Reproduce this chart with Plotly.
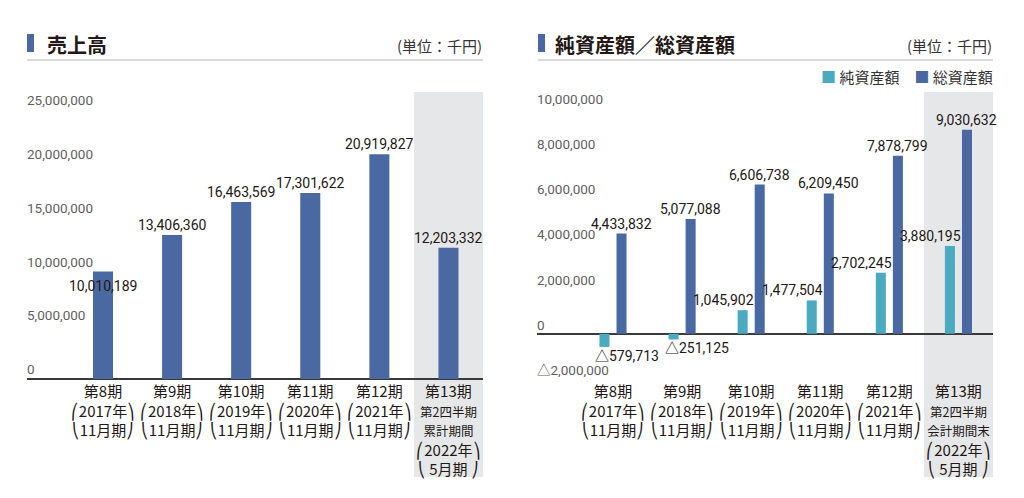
import plotly.graph_objects as go

# ---------------- data ----------------
periods = ["第8期", "第9期", "第10期", "第11期", "第12期", "第13期"]
fiscal_years = ["2017年", "2018年", "2019年", "2020年", "2021年", "2022年"]
fiscal_months = ["11月期", "11月期", "11月期", "11月期", "11月期", "5月期"]
sales_note = ["第2四半期", "累計期間"]
assets_note = ["第2四半期", "会計期間末"]

sales = [10010189, 13406360, 16463569, 17301622, 20919827, 12203332]
net_assets = [-579713, -251125, 1045902, 1477504, 2702245, 3880195]
total_assets = [4433832, 5077088, 6606738, 6209450, 7878799, 9030632]

sales_ticks = [0, 5000000, 10000000, 15000000, 20000000, 25000000]
assets_ticks = [-2000000, 0, 2000000, 4000000, 6000000, 8000000, 10000000]

# ---------------- style ----------------
NAVY = "#4a68a2"
TEAL = "#4aabc0"
GRAY_BG = "#e6e7e9"
TXT = "#231815"
TICK_TXT = "#5f5f5f"
NUM_FONT = "Roboto, Noto Sans CJK JP"
JP_FONT = "Noto Sans CJK JP"

W, H = 1024, 498
ML, MR, MT, MB = 27, 31, 92, 119
PW = W - ML - MR
PH = H - MT - MB


def px_x(px):
    return (px - ML) / PW


def px_y(py):
    return (H - MB - py) / PH


def fmt(v):
    return f"{v:,}" if v >= 0 else "△" + f"{-v:,}"


def cat_label(i, note):
    if i < len(periods) - 1:
        return f"{periods[i]}<br>⎛{fiscal_years[i]}⎞<br>⎝{fiscal_months[i]}⎠"
    small = "".join(f'<br><span style="font-size:12.5px">{n}</span>' for n in note)
    return f"{periods[i]}{small}<br>⎛{fiscal_years[i]}⎞<br>⎝ {fiscal_months[i]} ⎠"


xs = list(range(len(periods)))
left_ticktext = [cat_label(i, sales_note) for i in xs]
right_ticktext = [cat_label(i, assets_note) for i in xs]

fig = go.Figure()

# Left: sales
fig.add_trace(go.Bar(x=xs, y=sales, width=0.29, marker=dict(color=NAVY, line=dict(width=0)),
                     xaxis="x", yaxis="y", showlegend=False, hoverinfo="skip"))
# Right: net / total assets
BW = 0.145
GAP = 0.051
fig.add_trace(go.Bar(x=xs, y=net_assets, width=BW, offset=-GAP - BW,
                     marker=dict(color=TEAL, line=dict(width=0)),
                     xaxis="x2", yaxis="y2", showlegend=False, hoverinfo="skip"))
fig.add_trace(go.Bar(x=xs, y=total_assets, width=BW, offset=GAP,
                     marker=dict(color=NAVY, line=dict(width=0)),
                     xaxis="x2", yaxis="y2", showlegend=False, hoverinfo="skip"))

annotations = []
num_font = dict(family=NUM_FONT, size=14, color=TXT)
tick_font = dict(family=NUM_FONT, size=13.5, color=TICK_TXT)

# y tick labels (left-aligned inside the plot, sitting just above their value)
for v in sales_ticks:
    annotations.append(dict(x=0, y=v, xref="x domain", yref="y", text=fmt(v), showarrow=False,
                            xanchor="left", yanchor="middle", yshift=10, xshift=-2,
                            font=tick_font))
for v in assets_ticks:
    annotations.append(dict(x=0, y=v, xref="x2 domain", yref="y2", text=fmt(v), showarrow=False,
                            xanchor="left", yanchor="middle", yshift=9, xshift=-2,
                            font=tick_font))

# value labels - sales
for i, v in enumerate(sales):
    if i == 0:
        annotations.append(dict(x=i, y=v, xref="x", yref="y", text=fmt(v), showarrow=False,
                                yanchor="top", yshift=-5, font=num_font))
    else:
        annotations.append(dict(x=i, y=v, xref="x", yref="y", text=fmt(v), showarrow=False,
                                yanchor="bottom", yshift=0, font=num_font))

# value labels - total assets
for i, v in enumerate(total_assets):
    annotations.append(dict(x=i + GAP + BW / 2, y=v, xref="x2", yref="y2", text=fmt(v),
                            showarrow=False, yanchor="bottom", yshift=0, font=num_font))
# value labels - net assets
for i, v in enumerate(net_assets):
    if v >= 0:
        annotations.append(dict(x=i - GAP - BW / 2, y=v, xref="x2", yref="y2", text=fmt(v),
                                showarrow=False, yanchor="bottom", xshift=-19, yshift=0,
                                font=num_font))
    else:
        annotations.append(dict(x=i - GAP - BW / 2, y=v, xref="x2", yref="y2", text=fmt(v),
                                showarrow=False, yanchor="top", xshift=23, yshift=1,
                                font=num_font))

# headings
annotations += [
    dict(x=px_x(45), y=px_y(44), xref="paper", yref="paper", text="<b>売上高</b>",
         showarrow=False, xanchor="left", yanchor="middle",
         font=dict(family=JP_FONT, size=20, color=TXT)),
    dict(x=px_x(484), y=px_y(45), xref="paper", yref="paper", text="(単位：千円)",
         showarrow=False, xanchor="right", yanchor="middle",
         font=dict(family=JP_FONT, size=15, color="#333333")),
    dict(x=px_x(553), y=px_y(44), xref="paper", yref="paper", text="<b>純資産額／総資産額</b>",
         showarrow=False, xanchor="left", yanchor="middle",
         font=dict(family=JP_FONT, size=20, color=TXT)),
    dict(x=px_x(994), y=px_y(45), xref="paper", yref="paper", text="(単位：千円)",
         showarrow=False, xanchor="right", yanchor="middle",
         font=dict(family=JP_FONT, size=15, color="#333333")),
    dict(x=px_x(995), y=px_y(76), xref="paper", yref="paper",
         text=f'<span style="color:{TEAL}">■</span> 純資産額　<span style="color:{NAVY}">■</span> 総資産額',
         showarrow=False, xanchor="right", yanchor="middle",
         font=dict(family=JP_FONT, size=15, color="#333333")),
]

shapes = [
    # grey highlight for latest period
    dict(type="rect", xref="x", yref="paper", x0=4.5, x1=5.5, y0=px_y(477), y1=1,
         fillcolor=GRAY_BG, line=dict(width=0), layer="below"),
    dict(type="rect", xref="x2", yref="paper", x0=4.5, x1=5.5, y0=px_y(477), y1=1,
         fillcolor=GRAY_BG, line=dict(width=0), layer="below"),
    # heading markers
    dict(type="rect", xref="paper", yref="paper", x0=px_x(27), x1=px_x(34),
         y0=px_y(52), y1=px_y(34), fillcolor=NAVY, line=dict(width=0)),
    dict(type="rect", xref="paper", yref="paper", x0=px_x(538), x1=px_x(545),
         y0=px_y(52), y1=px_y(34), fillcolor=NAVY, line=dict(width=0)),
    # heading underlines
    dict(type="line", xref="paper", yref="paper", x0=px_x(27), x1=px_x(483),
         y0=px_y(60), y1=px_y(60), line=dict(color="#b5b5b5", width=1)),
    dict(type="line", xref="paper", yref="paper", x0=px_x(538), x1=px_x(993),
         y0=px_y(60), y1=px_y(60), line=dict(color="#b5b5b5", width=1)),
]

xaxis_common = dict(range=[-1.1, 5.5], tickmode="array", tickvals=xs,
                    showgrid=False, zeroline=False, showline=False, ticks="",
                    tickfont=dict(family=JP_FONT, size=15, color=TXT),
                    ticklabelstandoff=2, automargin=False, fixedrange=True)
yaxis_common = dict(showgrid=False, showline=False, ticks="", zeroline=True,
                    zerolinecolor="#3a3a3a", zerolinewidth=1.5,
                    showticklabels=False, automargin=False, fixedrange=True)

fig.update_layout(
    width=W, height=H,
    margin=dict(l=ML, r=MR, t=MT, b=MB, autoexpand=False),
    paper_bgcolor="white", plot_bgcolor="white",
    barmode="overlay",
    xaxis=dict(domain=[0, px_x(483)], anchor="y", ticktext=left_ticktext, **xaxis_common),
    yaxis=dict(domain=[0, 1], anchor="x", range=[0, 26.7e6], **yaxis_common),
    xaxis2=dict(domain=[px_x(537), 1], anchor="y2", ticktext=right_ticktext, **xaxis_common),
    yaxis2=dict(domain=[0, 1], anchor="x2", range=[-2.0e6, 10.7e6], **yaxis_common),
    annotations=annotations,
    shapes=shapes,
)

fig.write_html("out.html", config={"displayModeBar": False},
               post_script="document.body.style.margin='0px';")
